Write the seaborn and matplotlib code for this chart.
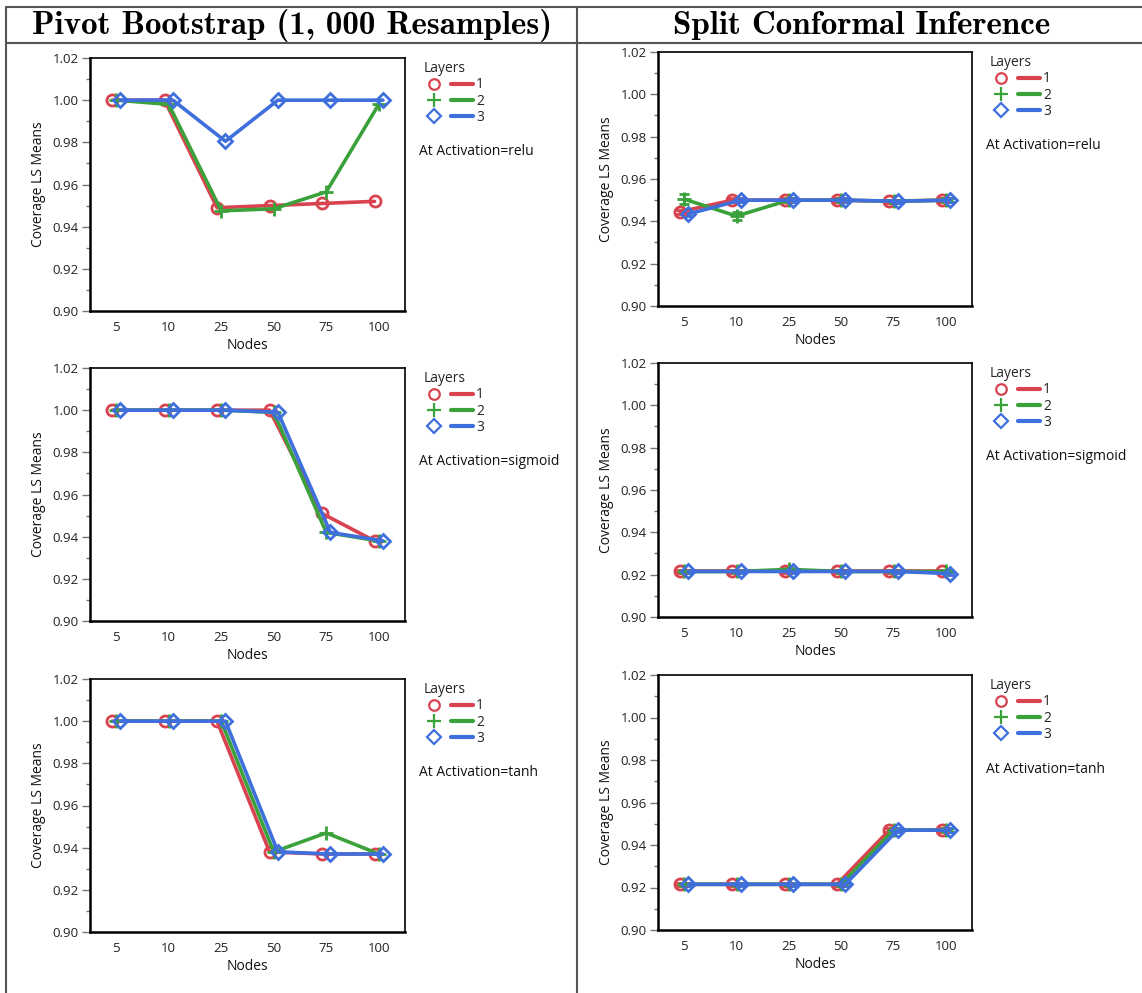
import os
import numpy as np
import pandas as pd
import matplotlib
matplotlib.use("Agg")
import matplotlib.pyplot as plt
from matplotlib.lines import Line2D
from matplotlib.ticker import MultipleLocator
from matplotlib.legend_handler import HandlerTuple
from matplotlib.font_manager import FontProperties
import seaborn as sns

# ---------------- data ----------------
nodes = ["5", "10", "25", "50", "75", "100"]
layers = ["1", "2", "3"]
activations = ["relu", "sigmoid", "tanh"]

# Pivot Bootstrap (1,000 resamples)
pb_relu_1 = [1.000, 1.000, 0.949, 0.950, 0.951, 0.952]
pb_relu_2 = [1.000, 0.998, 0.9475, 0.9485, 0.9565, 0.998]
pb_relu_3 = [1.000, 1.000, 0.9805, 1.000, 1.000, 1.000]
pb_sigm_1 = [1.000, 1.000, 1.000, 1.000, 0.951, 0.938]
pb_sigm_2 = [1.000, 1.000, 1.000, 0.999, 0.942, 0.938]
pb_sigm_3 = [1.000, 1.000, 1.000, 0.999, 0.942, 0.938]
pb_tanh_1 = [1.000, 1.000, 1.000, 0.938, 0.937, 0.937]
pb_tanh_2 = [1.000, 1.000, 1.000, 0.938, 0.947, 0.937]
pb_tanh_3 = [1.000, 1.000, 1.000, 0.938, 0.937, 0.937]

# Split Conformal Inference
sc_relu_1 = [0.9445, 0.950, 0.950, 0.950, 0.9495, 0.950]
sc_relu_2 = [0.9505, 0.9425, 0.950, 0.950, 0.9495, 0.950]
sc_relu_3 = [0.9435, 0.950, 0.950, 0.950, 0.9495, 0.950]
sc_sigm_1 = [0.9215, 0.9215, 0.9215, 0.9215, 0.9215, 0.9215]
sc_sigm_2 = [0.9215, 0.9215, 0.9225, 0.9215, 0.9215, 0.9215]
sc_sigm_3 = [0.9215, 0.9215, 0.9215, 0.9215, 0.9215, 0.9205]
sc_tanh_1 = [0.9215, 0.9215, 0.9215, 0.9215, 0.947, 0.947]
sc_tanh_2 = [0.9215, 0.9215, 0.9215, 0.9215, 0.947, 0.947]
sc_tanh_3 = [0.9215, 0.9215, 0.9215, 0.9215, 0.947, 0.947]

# half-widths of the small error bars (split conformal)
sc_relu_err_2 = [0.0022, 0.0020, 0.0008, 0.0008, 0.0008, 0.0008]
sc_err_small = [0.0008, 0.0008, 0.0008, 0.0008, 0.0008, 0.0008]

col_titles = ["Pivot Bootstrap (1, 000 Resamples)", "Split Conformal Inference"]

panels = {
    (0, 0): [pb_relu_1, pb_relu_2, pb_relu_3],
    (0, 1): [pb_sigm_1, pb_sigm_2, pb_sigm_3],
    (0, 2): [pb_tanh_1, pb_tanh_2, pb_tanh_3],
    (1, 0): [sc_relu_1, sc_relu_2, sc_relu_3],
    (1, 1): [sc_sigm_1, sc_sigm_2, sc_sigm_3],
    (1, 2): [sc_tanh_1, sc_tanh_2, sc_tanh_3],
}
errs = {
    (1, 0): [sc_err_small, sc_relu_err_2, sc_err_small],
    (1, 1): [sc_err_small, sc_err_small, sc_err_small],
    (1, 2): [sc_err_small, sc_err_small, sc_err_small],
}

# ---------------- style ----------------
sns.set_theme(style="white")
plt.rcParams["font.family"] = ["Open Sans", "DejaVu Sans"]

colors = ["#D9434F", "#3BA23B", "#3F6FDD"]
markers = ["o", "+", "D"]
msizes = [8, 10, 7.5]

cmb_path = os.path.join(matplotlib.get_data_path(), "fonts", "ttf", "cmb10.ttf")
title_fp = FontProperties(fname=cmb_path, size=23.8) if os.path.exists(cmb_path) \
    else FontProperties(family="DejaVu Serif", weight="bold", size=21)

W, H = 1142, 993
fig = plt.figure(figsize=(W / 100, H / 100), dpi=100)

def fx(px):
    return px / W

def fy(py):
    return 1 - py / H

# table lines
line_kw = dict(color="#555555", lw=1.5, transform=fig.transFigure, clip_on=False)
fig.add_artist(Line2D([fx(6), fx(1142)], [fy(7), fy(7)], **line_kw))
fig.add_artist(Line2D([fx(6), fx(1142)], [fy(43), fy(43)], **line_kw))
fig.add_artist(Line2D([fx(6), fx(6)], [fy(7), fy(993)], **line_kw))
fig.add_artist(Line2D([fx(577), fx(577)], [fy(7), fy(993)], **line_kw))

fig.text(fx(292), fy(25), col_titles[0], ha="center", va="center",
         fontproperties=title_fp, color="black")
fig.text(fx(862), fy(25), col_titles[1], ha="center", va="center",
         fontproperties=title_fp, color="black")

col_x = [(90, 405), (658, 972)]
row_y = [[(58, 311), (368, 621), (679, 932)],
         [(52, 306), (363, 617), (675, 930)]]

dodge_w = 0.16

for (c, r), series in panels.items():
    x0, x1 = col_x[c]
    y0, y1 = row_y[c][r]
    ax = fig.add_axes([fx(x0), fy(y1), fx(x1 - x0), (y1 - y0) / H])
    rows = []
    for li, vals in zip(layers, series):
        for n, v in zip(nodes, vals):
            rows.append({"Nodes": n, "Layers": li, "Coverage": v})
    df = pd.DataFrame(rows)
    offsets = np.linspace(-dodge_w / 2, dodge_w / 2, 3)
    if (c, r) in errs:
        for k, e in enumerate(errs[(c, r)]):
            xpos = np.arange(len(nodes)) + offsets[k]
            ax.errorbar(xpos, series[k], yerr=e, fmt="none", ecolor=colors[k],
                        elinewidth=2, capsize=3.5, capthick=2, zorder=2)
    for k, li in enumerate(layers):
        sub = df[df["Layers"] == li].copy()
        sub["xpos"] = np.arange(len(nodes)) + offsets[k]
        sns.lineplot(data=sub, x="xpos", y="Coverage", ax=ax, color=colors[k],
                     marker=markers[k], markersize=msizes[k], linewidth=2.6,
                     markerfacecolor="none", markeredgecolor=colors[k],
                     markeredgewidth=2, legend=False, zorder=3 + k, sort=False)
    ax.set_xlim(-0.5, 5.5)
    ax.set_ylim(0.90, 1.02)
    ax.set_xticks(range(len(nodes)))
    ax.set_xticklabels(nodes)
    ax.yaxis.set_major_locator(MultipleLocator(0.02))
    ax.yaxis.set_minor_locator(MultipleLocator(0.01))
    ax.yaxis.set_major_formatter(matplotlib.ticker.FormatStrFormatter("%.2f"))
    ax.tick_params(axis="y", which="major", left=True, length=6, width=1,
                   color="#777777", labelsize=9.5, labelcolor="#222222", pad=2)
    ax.tick_params(axis="y", which="minor", left=True, length=3, width=1, color="#777777")
    ax.tick_params(axis="x", bottom=False, labelsize=9.5, labelcolor="#222222", pad=1)
    ax.set_xlabel("Nodes", fontsize=10, labelpad=3, color="#111111")
    ax.set_ylabel("Coverage LS Means", fontsize=10, labelpad=5, color="#111111")
    for s in ax.spines.values():
        s.set_color("black")
        s.set_linewidth(1.2)
    ax.spines["left"].set_linewidth(1.8)
    ax.spines["bottom"].set_linewidth(1.8)

    # legend: marker then separate line segment then label
    handles = []
    for k in range(3):
        mk = Line2D([0], [0], linestyle="none", marker=markers[k],
                    markersize=msizes[k] * 0.95, markerfacecolor="white",
                    markeredgecolor=colors[k], markeredgewidth=1.6)
        ln = Line2D([0], [0], color=colors[k], lw=3)
        handles.append((mk, ln))
    leg = ax.legend(handles, layers, title="Layers", loc="upper left",
                    bbox_to_anchor=(1.04, 1.01), frameon=False, fontsize=10,
                    title_fontsize=10, handlelength=3.6, handletextpad=0.2,
                    labelspacing=0.1, borderaxespad=0,
                    handler_map={tuple: HandlerTuple(ndivide=None, pad=0.4)})
    leg._legend_box.align = "left"
    ax.text(1.045, 0.63, f"At Activation={activations[r]}", transform=ax.transAxes,
            fontsize=10, ha="left", va="center", color="#111111")

fig.savefig("out.png", dpi=100)
